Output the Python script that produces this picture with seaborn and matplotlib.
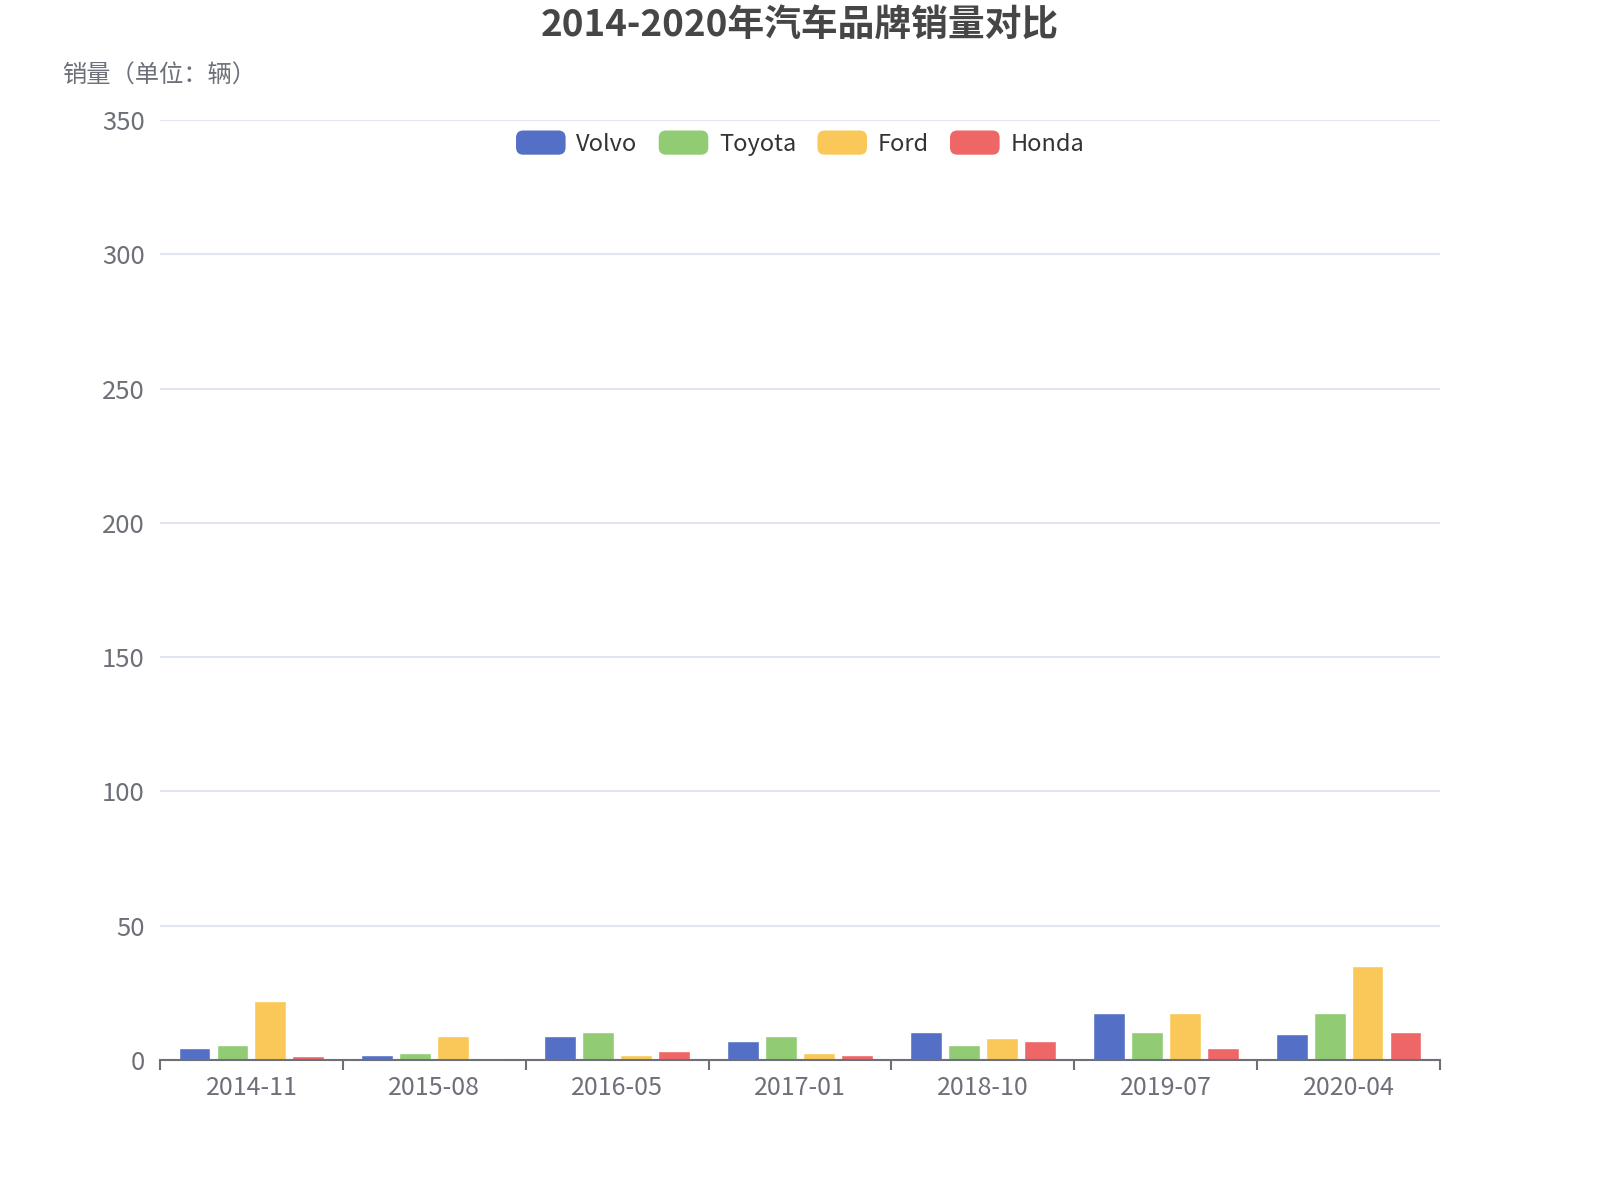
import matplotlib
matplotlib.use("Agg")
import matplotlib.pyplot as plt
import numpy as np
import pandas as pd
import seaborn as sns
from matplotlib.legend_handler import HandlerPatch
from matplotlib.patches import FancyBboxPatch, Patch

# values
months = ["2014-11", "2015-08", "2016-05", "2017-01", "2018-10", "2019-07", "2020-04"]
brands = ["Volvo", "Toyota", "Ford", "Honda"]
volvo = [4.5, 2, 9, 7, 10.5, 17.6, 9.8]
toyota = [5.4, 2.6, 10.5, 9, 5.4, 10.5, 17.6]
ford = [22, 9, 2, 2.6, 8, 17.6, 35]
honda = [1.6, 0.6, 3.2, 2, 7, 4.5, 10.5]
colors = ["#5470c6", "#91cc75", "#fac858", "#ee6666"]

df = pd.DataFrame({
    "month": np.repeat(months, len(brands)),
    "brand": brands * len(months),
    "sales": [v for row in zip(volvo, toyota, ford, honda) for v in row],
})

sns.set_style("white")
plt.rcParams["font.family"] = ["Noto Sans CJK SC", "DejaVu Sans"]

AXIS_GREY = "#6e7079"


class RoundHandler(HandlerPatch):
    def create_artists(self, legend, orig_handle, xdescent, ydescent,
                       width, height, fontsize, trans):
        p = FancyBboxPatch(
            (-xdescent, -ydescent), width, height,
            boxstyle=f"round,pad=0,rounding_size={height * 0.3:.2f}",
            facecolor=orig_handle.get_facecolor(), edgecolor="none",
            transform=trans,
        )
        return [p]


fig = plt.figure(figsize=(16, 12), dpi=100)
ax = fig.add_axes([0.1, 0.1167, 0.8, 0.7833])

sns.barplot(data=df, x="month", y="sales", hue="brand", order=months,
            hue_order=brands, palette=colors, width=0.83, gap=0.16,
            saturation=1, ax=ax, legend=False)

ax.set_xlim(-0.5, len(months) - 0.5)
ax.set_ylim(0, 350)
ax.set_yticks(range(0, 351, 50))
ax.grid(axis="y", color="#e0e6f1", lw=1.5)
ax.set_axisbelow(True)
for s in ["left", "top", "right"]:
    ax.spines[s].set_visible(False)
ax.spines["bottom"].set_color(AXIS_GREY)
ax.spines["bottom"].set_linewidth(1.5)

ax.tick_params(axis="y", length=0, pad=11, labelsize=18.5, labelcolor=AXIS_GREY)
ax.tick_params(axis="x", which="major", length=0, pad=11, labelsize=18,
               labelcolor=AXIS_GREY)
ax.set_xticks(np.arange(-0.5, len(months)), minor=True)
ax.tick_params(axis="x", which="minor", bottom=True, length=7, width=1.5,
               color=AXIS_GREY, direction="out")
ax.set_xlabel("")
ax.set_ylabel("")

handles = [Patch(facecolor=c, label=b) for b, c in zip(brands, colors)]
ax.legend(handles=handles, handler_map={Patch: RoundHandler()}, ncol=4,
          loc="center", bbox_to_anchor=(0.5, 0.9755), frameon=False,
          fontsize=17, labelcolor="#333333", handlelength=2.1,
          handleheight=1.2, handletextpad=0.45, columnspacing=0.9)

fig.text(0.5, 0.979, "2014-2020年汽车品牌销量对比", ha="center", va="center",
         fontsize=26.5, fontweight="bold", color="#464646")
fig.text(0.0995, 0.937, "销量（单位：辆）", ha="center", va="center",
         fontsize=17.5, color=AXIS_GREY)

fig.savefig("out.png", dpi=100)
